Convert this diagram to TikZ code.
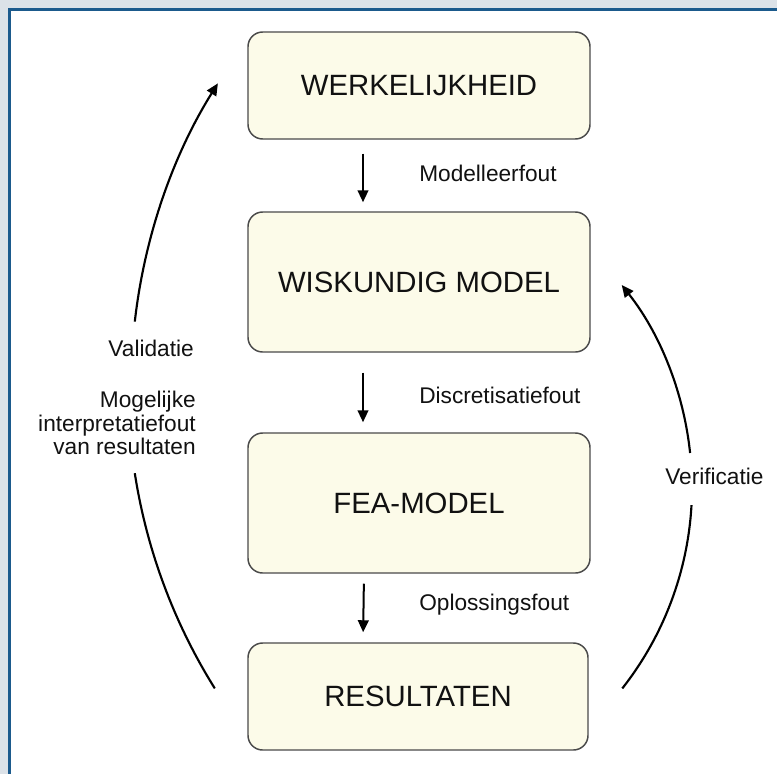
\documentclass[tikz,border=0pt]{standalone}
\usepackage{fontspec}
\setmainfont{Liberation Sans}
\usetikzlibrary{arrows.meta}
\definecolor{framegray}{HTML}{DCE2E8}
\definecolor{frameblue}{HTML}{1B5A8C}
\definecolor{boxfill}{HTML}{FCFBE9}
\definecolor{boxline}{HTML}{4A4A4A}
\definecolor{txt}{HTML}{111111}
\tikzset{
  stagebox/.style={draw=boxline, line width=1.1pt, fill=boxfill, rounded corners=11pt,
    minimum width=256.5pt, inner sep=0pt, text=txt, font=\fontsize{22}{26}\selectfont},
  lbl/.style={text=txt, font=\fontsize{17}{17.5}\selectfont, inner sep=0pt},
  arr/.style={line width=1.5pt, -{Triangle[length=9pt,width=8pt]}, shorten <=10.5pt, shorten >=6.75pt},
  curve/.style={line width=1.6pt},
  curvearr/.style={line width=1.6pt, -{Triangle[length=9pt,width=8pt]}}
}
\begin{document}
\begin{tikzpicture}[x=0.75pt, y=-0.75pt]
\useasboundingbox (0,0) rectangle (777,774);
\fill[white] (0,0) rectangle (777,774);
\fill[framegray] (0,0) rectangle (777,8);
\fill[framegray] (0,0) rectangle (8,774);
\fill[frameblue] (8,8) rectangle (777,11);
\fill[frameblue] (8,8) rectangle (11,774);

\node[stagebox, minimum height=80.25pt] (B1) at (419,85.5) {WERKELIJKHEID};
\node[stagebox, minimum height=105pt] (B2) at (419,282) {WISKUNDIG MODEL};
\node[stagebox, minimum height=105pt] (B3) at (419,503) {FEA-MODEL};
\node[stagebox, minimum height=80.25pt, minimum width=255pt] (B4) at (418,696.5) {RESULTATEN};

\draw[arr] ([xshift=-42pt]B1.south) -- ([xshift=-42pt]B2.north);
\draw[arr, shorten <=15pt, shorten >=7.5pt] ([xshift=-42pt]B2.south) -- ([xshift=-42pt]B3.north);
\draw[arr, shorten <=7.5pt, shorten >=7.5pt] ([xshift=-41.25pt]B3.south) -- ([xshift=-41.25pt]B4.north);

\node[lbl, anchor=west] (L1) at (419,173) {Modelleerfout};
\node[lbl, anchor=west] (L2) at (419,395) {Discretisatiefout};
\node[lbl, anchor=west] (L3) at (419,605) {Oplossingsfout};

\node[lbl, anchor=east] (V) at (194,348) {Validatie};
\node[lbl, anchor=east, align=right] (M) at (196,423) {Mogelijke\\interpretatiefout\\van resultaten};
\node[lbl, anchor=west] (VF) at (665,476) {Verificatie};

% left (validation) arc: centre (699,386), radius 571
\coordinate (la) at (214.8,688.4);
\coordinate (lb) at (134.8,321.6);
\draw[curve] (la) arc[start angle=148, end angle=171.2, radius=571];
\draw[curvearr] (lb) arc[start angle=186.47, end angle=212, radius=571];

% right (verification) arc: centre (366,487), radius 326
\coordinate (ra) at (622.3,688.4);
\coordinate (rb) at (690.1,453.0);
\draw[curve] (ra) arc[start angle=38.17, end angle=3.2, radius=326];
\draw[curvearr] (rb) arc[start angle=-6.0, end angle=-38.3, radius=326];
\end{tikzpicture}
\end{document}
